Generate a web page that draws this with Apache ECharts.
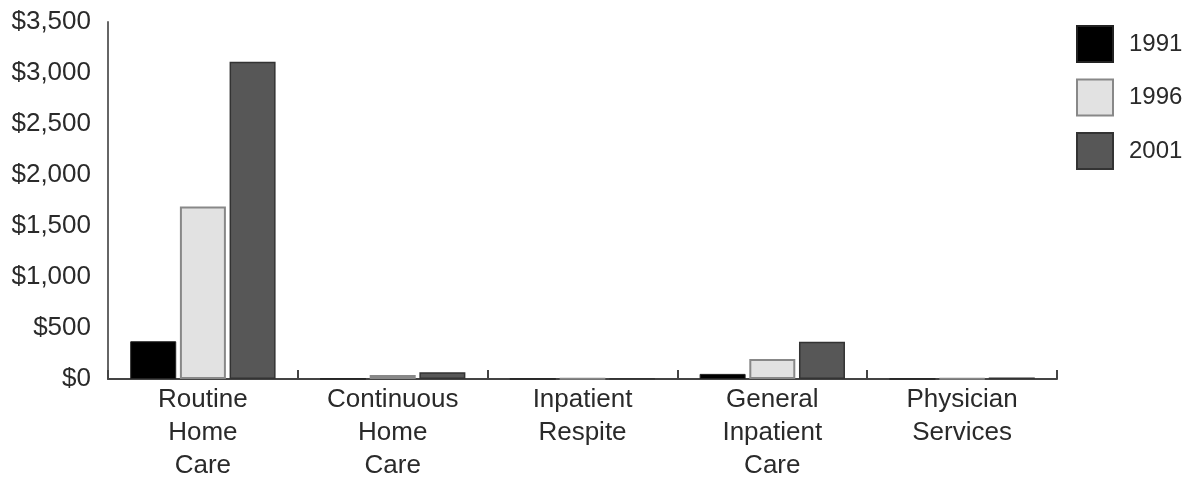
<!DOCTYPE html>
<html>
<head>
<meta charset="utf-8">
<script src="https://cdn.jsdelivr.net/npm/echarts@6/dist/echarts.min.js"></script>
<style>
html,body{margin:0;padding:0;background:#fff;}
#chart{width:1195px;height:477px;}
</style>
</head>
<body>
<div id="chart"></div>
<script>
const categories = ['Routine\nHome\nCare', 'Continuous\nHome\nCare', 'Inpatient\nRespite', 'General\nInpatient\nCare', 'Physician\nServices'];
const years = ['1991', '1996', '2001'];
const values1991 = [370, 2, 1, 50, 1];
const values1996 = [1690, 40, 3, 195, 5];
const values2001 = [3110, 65, 5, 365, 15];
const yTicks = [0, 500, 1000, 1500, 2000, 2500, 3000, 3500];

const chart = echarts.init(document.getElementById('chart'));
const font = 'Liberation Sans, Arial, sans-serif';
chart.setOption({
  animation: false,
  textStyle: {fontFamily: font},
  grid: {left: 108, right: 138, top: 22, bottom: 98, containLabel: false, outerBoundsMode: 'none'},
  legend: {
    orient: 'vertical', left: 1071, top: 20,
    icon: 'rect',
    itemWidth: 36, itemHeight: 36, itemGap: 15.5,
    textStyle: {fontSize: 24, color: '#2a2a2a', fontFamily: font, padding: [0,0,0,11]},
    data: years
  },
  xAxis: {
    type: 'category', data: categories,
    axisLine: {lineStyle: {color: '#444', width: 2}},
    axisTick: {show: true, inside: true, length: 9, lineStyle: {color: '#444', width: 2}},
    axisLabel: {fontSize: 26, color: '#2a2a2a', lineHeight: 33, margin: 4, fontFamily: font}
  },
  yAxis: {
    type: 'value', min: yTicks[0], max: yTicks[yTicks.length - 1], interval: 500,
    splitLine: {show: false},
    axisLine: {show: true, lineStyle: {color: '#666', width: 2}},
    axisTick: {show: false},
    axisLabel: {fontSize: 26, color: '#2a2a2a', margin: 17, fontFamily: font,
      formatter: v => '$' + v.toLocaleString('en-US')}
  },
  series: [
    {name: years[0], type: 'bar', data: values1991, barWidth: 46, barGap: '8%',
     itemStyle: {color: '#000', borderColor: '#222', borderWidth: 1}},
    {name: years[1], type: 'bar', data: values1996, barWidth: 46, barGap: '8%',
     itemStyle: {color: '#e2e2e2', borderColor: '#888', borderWidth: 2}},
    {name: years[2], type: 'bar', data: values2001, barWidth: 46, barGap: '8%',
     itemStyle: {color: '#575757', borderColor: '#333', borderWidth: 1.5}}
  ]
});
</script>
</body>
</html>
